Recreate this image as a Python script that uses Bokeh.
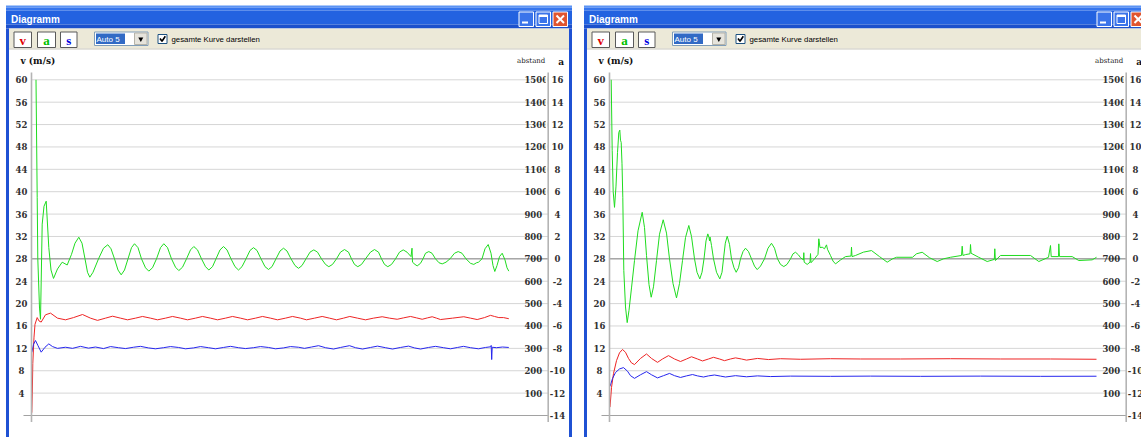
from bokeh.plotting import figure
from bokeh.models import Range1d
from bokeh.core.properties import value
from bokeh.embed import file_html
from bokeh.resources import INLINE

# ---------------------------------------------------------------------------
# Axis ticks
V_TICKS = [4, 8, 12, 16, 20, 24, 28, 32, 36, 40, 44, 48, 52, 56, 60]
V_LABELS = [str(v) for v in V_TICKS]
S_TICKS = [100, 200, 300, 400, 500, 600, 700, 800, 900, 1000, 1100, 1200, 1300, 1400, 1500]
S_LABELS = [str(s) for s in S_TICKS]
A_TICKS = [-14, -12, -10, -8, -6, -4, -2, 0, 2, 4, 6, 8, 10, 12, 14, 16]
A_LABELS = [str(a) for a in A_TICKS]

# Scale relations between the three value axes
A_ZERO_V = 28.0   # v value at which a = 0
V_PER_A = 2.0     # v units per a unit
S_PER_V = 25.0    # abstand units per v unit

# ---------------------------------------------------------------------------
# Run 1: (t [s], a [m/s^2])
RUN1_ACCEL = [
    (0.45, 16.0), (0.57, 5.5), (0.63, 0.0), (0.8, -4.4), (0.9, -5.4), (0.97, -2.0), (1.07, 3.1),
    (1.25, 4.7), (1.47, 5.15), (1.73, 1.0), (1.95, -1.0), (2.2, -1.75), (2.6, -0.9), (3.07, -0.3),
    (3.57, -0.55), (4.0, 0.4), (4.35, 1.4), (4.73, 1.93), (5.05, 1.4), (5.35, 0.0), (5.6, -1.2),
    (5.83, -1.64), (6.15, -1.2), (6.7, 0.0), (7.2, 0.95), (7.63, 1.26), (7.95, 0.9), (8.3, 0.0),
    (8.65, -1.0), (8.97, -1.43), (9.3, -1.0), (9.65, 0.0), (10.0, 1.0), (10.3, 1.35), (10.65, 1.0),
    (11.0, 0.0), (11.4, -0.8), (11.73, -1.1), (12.1, -0.8), (12.5, 0.0), (12.9, 1.0), (13.23, 1.35),
    (13.6, 1.0), (14.0, 0.0), (14.4, -0.75), (14.73, -1.05), (15.1, -0.75), (15.5, 0.0), (15.9, 0.8),
    (16.23, 1.1), (16.6, 0.8), (17.0, 0.0), (17.4, -0.7), (17.73, -1.0), (18.1, -0.7), (18.45, 0.0),
    (18.85, 0.8), (19.2, 1.1), (19.55, 0.8), (19.95, 0.0), (20.35, -0.7), (20.7, -1.0), (21.05, -0.7),
    (21.45, 0.0), (21.85, 0.75), (22.2, 1.0), (22.55, 0.75), (22.95, 0.0), (23.35, -0.7), (23.7, -0.95),
    (24.05, -0.7), (24.45, 0.0), (24.85, 0.7), (25.2, 0.95), (25.55, 0.7), (25.95, 0.0), (26.35, -0.6),
    (26.7, -0.85), (27.05, -0.6), (27.45, 0.0), (27.85, 0.6), (28.23, 0.8), (28.6, 0.6), (29.0, 0.0),
    (29.4, -0.5), (29.73, -0.7), (30.1, -0.5), (30.5, 0.0), (30.9, 0.6), (31.3, 0.83), (31.7, 0.6),
    (32.0, 0.0), (32.3, -0.5), (32.63, -0.7), (33.0, -0.5), (33.4, 0.0), (33.9, 0.6), (34.3, 0.83),
    (34.7, 0.6), (35.0, 0.0), (35.3, -0.5), (35.63, -0.7), (36.0, -0.5), (36.4, 0.0), (36.8, 0.6),
    (37.17, 0.8), (37.55, 0.6), (37.95, 0.2), (38.05, 0.95), (38.1, -0.3), (38.35, -0.5), (38.57, -0.63),
    (38.9, -0.4), (39.15, 0.0), (39.4, 0.5), (39.73, 0.65), (40.05, 0.5), (40.4, 0.0), (40.75, -0.35),
    (41.07, -0.45), (41.45, -0.3), (41.85, 0.0), (42.3, 0.5), (42.67, 0.65), (43.05, 0.5), (43.45, 0.0),
    (43.9, -0.4), (44.23, -0.5), (44.5, -0.35), (44.7, -0.3), (45.05, 0.0), (45.35, 0.9), (45.67, 1.28),
    (45.95, 0.5), (46.15, -0.6), (46.33, -1.13), (46.55, -0.6), (46.8, 0.2), (47.07, 0.5), (47.35, -0.1),
    (47.55, -0.8), (47.73, -1.1),
]
# Run 1: (t [s], v [m/s])
RUN1_SPEED = [
    (0.03, 0.5), (0.08, 4.0), (0.13, 9.3), (0.25, 14.0), (0.35, 16.3), (0.57, 17.5), (0.75, 16.9),
    (0.97, 16.7), (1.4, 18.0), (1.9, 18.3), (2.6, 17.4), (3.4, 17.1), (4.2, 17.5), (5.1, 18.05),
    (5.9, 17.4), (6.6, 17.0), (7.4, 17.4), (8.1, 17.75), (8.9, 17.4), (9.6, 17.1), (10.4, 17.4),
    (11.1, 17.7), (11.9, 17.4), (12.6, 17.1), (13.4, 17.4), (14.1, 17.7), (14.9, 17.4), (15.6, 17.1),
    (16.4, 17.4), (17.1, 17.7), (17.9, 17.4), (18.6, 17.1), (19.4, 17.4), (20.1, 17.7), (20.9, 17.4),
    (21.6, 17.1), (22.4, 17.4), (23.1, 17.7), (23.9, 17.4), (24.6, 17.1), (25.4, 17.4), (26.1, 17.7),
    (26.9, 17.4), (27.5, 17.1), (28.3, 17.4), (29.07, 17.7), (29.8, 17.4), (30.5, 17.1), (31.2, 17.4),
    (31.83, 17.7), (32.6, 17.4), (33.4, 17.1), (34.2, 17.4), (35.07, 17.65), (35.8, 17.4), (36.57, 17.2),
    (37.2, 17.45), (37.9, 17.7), (38.5, 17.45), (39.07, 17.2), (39.6, 17.45), (40.07, 17.65), (40.5, 17.4),
    (40.9, 17.15), (42.1, 17.4), (43.23, 17.65), (43.9, 17.4), (44.57, 17.15), (45.3, 17.5), (45.9, 17.9),
    (46.3, 17.7), (46.73, 17.5), (47.2, 17.5), (47.73, 17.3),
]
# Run 1: (t [s], abstand [m])
RUN1_DIST = [
    (0.03, 282), (0.2, 318), (0.4, 335), (0.65, 312), (0.97, 283), (1.35, 305), (1.73, 320), (2.1, 308),
    (2.6, 300), (3.4, 305), (4.1, 300), (4.9, 309), (5.7, 301), (6.4, 306), (7.2, 299), (7.9, 308),
    (8.7, 303), (9.4, 299), (10.2, 305), (10.9, 309), (11.7, 302), (12.4, 298), (13.2, 303), (13.9, 308),
    (14.7, 304), (15.4, 298), (16.2, 302), (16.9, 308), (17.7, 303), (18.4, 298), (19.2, 304), (19.9, 309),
    (20.7, 303), (21.4, 299), (22.2, 303), (22.9, 308), (23.7, 304), (24.4, 298), (25.2, 302), (25.9, 308),
    (26.7, 305), (27.3, 300), (28.0, 306), (28.7, 312), (29.4, 303), (30.2, 297), (30.9, 304), (31.8, 312),
    (32.4, 303), (33.1, 297), (33.9, 304), (34.6, 310), (35.4, 303), (36.1, 297), (36.9, 304), (37.7, 310),
    (38.3, 302), (38.9, 297), (39.7, 304), (40.4, 309), (41.2, 303), (41.9, 298), (42.6, 304), (43.2, 309),
    (43.9, 303), (44.7, 298), (45.4, 304), (45.93, 307), (45.97, 313), (46.02, 250), (46.07, 305),
    (46.5, 303), (47.1, 306), (47.73, 304),
]

# Run 2: (t [s], a [m/s^2])
RUN2_ACCEL = [
    (0.17, 16.0), (0.27, 9.7), (0.37, 6.0), (0.5, 4.6), (0.65, 6.5), (0.8, 9.5), (0.93, 11.3),
    (1.03, 11.5), (1.1, 10.6), (1.17, 10.4), (1.25, 8.5), (1.33, 5.5), (1.43, -1.05), (1.6, -4.3),
    (1.77, -5.7), (1.95, -4.6), (2.2, -2.6), (2.5, -0.15), (2.85, 2.5), (3.27, 4.16), (3.5, 2.8),
    (3.7, 0.3), (3.95, -2.3), (4.17, -3.43), (4.4, -2.5), (4.7, -0.15), (5.0, 2.2), (5.37, 3.49),
    (5.7, 2.3), (6.0, 0.0), (6.35, -2.2), (6.7, -3.49), (7.0, -2.2), (7.3, -0.15), (7.6, 1.9),
    (7.93, 2.98), (8.2, 2.0), (8.5, 0.0), (8.75, -1.2), (9.03, -1.79), (9.25, -1.2), (9.45, 0.0),
    (9.65, 1.6), (9.83, 2.23), (9.95, 1.9), (10.0, 1.6), (10.05, 1.95), (10.2, 1.2), (10.4, 0.0),
    (10.7, -1.2), (11.03, -1.79), (11.25, -1.2), (11.4, 0.0), (11.58, 1.4), (11.77, 2.02), (12.0, 1.3),
    (12.2, 0.0), (12.45, -0.8), (12.67, -1.2), (12.9, -0.8), (13.1, 0.0), (13.35, 0.65), (13.6, 0.95),
    (13.9, 0.65), (14.2, 0.0), (14.5, -0.65), (14.77, -0.96), (15.1, -0.65), (15.5, 0.0), (15.85, 0.95),
    (16.2, 1.39), (16.5, 0.95), (16.8, 0.0), (17.1, -0.5), (17.43, -0.69), (17.75, -0.5), (18.1, 0.0),
    (18.35, 0.45), (18.6, 0.59), (18.9, 0.35), (19.1, 0.1), (19.4, -0.1), (19.43, 0.55), (19.47, -0.3),
    (19.77, -0.5), (20.05, -0.3), (20.1, 0.47), (20.15, -0.35), (20.5, 0.0), (20.85, 0.4), (20.93, 1.79),
    (21.05, 1.0), (21.27, 1.04), (21.5, 0.9), (21.7, 1.25), (21.8, 0.85), (22.1, 0.3), (22.35, -0.2),
    (22.6, -0.45), (23.1, -0.1), (23.6, 0.2), (24.15, 0.25), (24.2, 1.04), (24.25, 0.2), (24.6, 0.3),
    (25.4, 0.6), (26.2, 0.74), (27.0, 0.2), (27.77, -0.3), (28.3, 0.0), (28.7, 0.14), (30.3, 0.14),
    (30.7, 0.45), (31.27, 0.59), (32.0, 0.1), (32.77, -0.24), (33.4, 0.0), (34.1, 0.14), (35.2, 0.3),
    (35.27, 1.13), (35.34, 0.3), (35.6, 0.38), (36.05, 0.45), (36.1, 1.28), (36.16, 0.5), (36.9, 0.15),
    (37.77, -0.24), (38.48, -0.05), (38.53, 0.9), (38.59, -0.15), (39.1, 0.3), (42.1, 0.3), (42.93, -0.24),
    (43.9, 0.14), (44.1, 1.19), (44.17, 0.2), (44.9, 0.2), (44.93, 1.34), (45.0, 0.2), (46.27, 0.2),
    (46.93, -0.15), (48.27, -0.09), (48.7, 0.14),
]
# Run 2: (t [s], v [m/s])
RUN2_SPEED = [
    (0.05, 1.5), (0.2, 5.0), (0.4, 7.5), (0.7, 9.8), (1.0, 11.2), (1.3, 11.8), (1.6, 11.3), (1.9, 10.2),
    (2.2, 9.4), (2.5, 9.1), (3.1, 10.2), (3.7, 11.0), (4.2, 10.2), (4.8, 9.5), (5.3, 10.1), (5.9, 10.7),
    (6.5, 10.1), (7.1, 9.65), (7.7, 10.1), (8.2, 10.5), (8.8, 10.1), (9.3, 9.75), (9.9, 10.1), (10.4, 10.4),
    (11.0, 10.1), (11.5, 9.8), (12.1, 10.1), (12.6, 10.3), (13.2, 10.1), (13.7, 9.9), (14.8, 10.2),
    (15.9, 10.0), (17.1, 10.15), (19.1, 10.05), (22.1, 10.15), (25.1, 10.1), (29.1, 10.1), (34.1, 10.15),
    (39.1, 10.1), (44.1, 10.1), (48.7, 10.05),
]
# Run 2: (t [s], abstand [m])
RUN2_DIST = [
    (0.05, 130), (0.3, 165), (0.6, 192), (1.0, 208), (1.4, 214), (1.8, 198), (2.1, 178), (2.5, 166),
    (3.1, 182), (3.7, 196), (4.2, 182), (4.8, 168), (5.4, 178), (6.0, 188), (6.5, 178), (7.1, 170),
    (7.7, 177), (8.3, 183), (8.8, 177), (9.4, 172), (9.9, 177), (10.5, 181), (11.1, 176), (11.6, 172),
    (12.6, 178), (13.7, 173), (14.8, 177), (16.1, 174), (18.1, 176), (22.1, 175), (26.1, 176), (31.1, 175),
    (37.1, 176), (43.1, 175), (48.7, 175.5),
]

RUNS = [(RUN1_ACCEL, RUN1_SPEED, RUN1_DIST), (RUN2_ACCEL, RUN2_SPEED, RUN2_DIST)]

# ---------------------------------------------------------------------------
# Page geometry (screen pixels, y downwards)
W, H = 1141, 437
WIN_OFFSETS = [0, 578]          # horizontal offset of each dialog window
AX_L, AX_R = 31.0, 547.7        # left / right value axis in the first window
Y_ZERO, Y_TOP = 415.0, 79.3     # pixel rows of v = 0 and v = 60
PX_PER_V = (Y_ZERO - Y_TOP) / 60.0
PX_PER_T = 10.0                 # pixels per second

GREEN, RED, BLUE = "#1fdc1f", "#ee2424", "#2626ee"
GRID, ZERO_LINE, AXIS = "#d6d6d6", "#8a8a8a", "#b4b4b4"
SERIF = value("DejaVu Serif")
SANS = value("Liberation Sans")

p = figure(width=W, height=H, x_range=Range1d(0, W), y_range=Range1d(H, 0),
           x_axis_type=None, y_axis_type=None, toolbar_location=None,
           output_backend="svg", min_border=0, title=None)
p.outline_line_color = None
p.background_fill_color = "white"
p.border_fill_color = "white"

# One set of scales per window: time, speed, acceleration and distance
xr, yr = {}, {}
vb = (Y_ZERO - H) / PX_PER_V
vt = Y_ZERO / PX_PER_V
for k, ox in enumerate(WIN_OFFSETS):
    x0 = AX_L + ox
    xr[f"t{k}"] = Range1d(-x0 / PX_PER_T, (W - x0) / PX_PER_T)
    yr[f"v{k}"] = Range1d(vb, vt)
    yr[f"a{k}"] = Range1d((vb - A_ZERO_V) / V_PER_A, (vt - A_ZERO_V) / V_PER_A)
    yr[f"s{k}"] = Range1d(vb * S_PER_V, vt * S_PER_V)
p.extra_x_ranges = xr
p.extra_y_ranges = yr


def window(ox):
    # frame, title bar and toolbar of a dialog window
    left, right = 5.5 + ox, 571.5 + ox
    p.quad(left=left, right=right, top=[5, 7, 10, 24], bottom=[7, 10, 24, 28],
           fill_color=["#5b93f4", "#3676ee", "#2362e0", "#1b50cc"], line_color=None)
    p.quad(left=[left, right - 3], right=[left + 3, right], top=28, bottom=H,
           fill_color="#1f51d3", line_color=None)
    p.quad(left=left + 3, right=right - 3, top=28, bottom=48, fill_color="#ece9d8", line_color=None)
    p.segment(x0=left + 3, x1=right - 3, y0=48.5, y1=48.5, line_color="#c9c7bd", line_width=1)
    p.text(x=[10.5 + ox], y=[18.5], text=["Diagramm"], text_font=SANS, text_font_size="10px",
           text_font_style="bold", text_color="white", text_baseline="middle")

    # caption buttons
    p.quad(left=[518.5 + ox, 535.5 + ox], right=[533 + ox, 550 + ox], top=11.5, bottom=26,
           fill_color="#3b74ea", line_color="white", line_width=1)
    p.quad(left=552.5 + ox, right=567 + ox, top=11.5, bottom=26,
           fill_color="#e1552f", line_color="white", line_width=1)
    p.quad(left=521.5 + ox, right=527.5 + ox, top=21, bottom=23, fill_color="white", line_color=None)
    p.quad(left=538.5 + ox, right=547 + ox, top=14.5, bottom=23, fill_color=None,
           line_color="white", line_width=1)
    p.quad(left=538.5 + ox, right=547 + ox, top=14.5, bottom=16.5, fill_color="white", line_color=None)
    p.segment(x0=[556 + ox, 563.5 + ox], x1=[563.5 + ox, 556 + ox], y0=15, y1=22.5,
              line_color="white", line_width=2)

    # v / a / s toggle buttons
    p.quad(left=[13.5 + ox, 37 + ox, 60 + ox], right=[31 + ox, 55 + ox, 76.5 + ox], top=31.5, bottom=47,
           fill_color="white", line_color="#5a5a5a", line_width=1)
    p.text(x=[22.3 + ox, 46 + ox, 68.3 + ox], y=[39.5] * 3, text=["v", "a", "s"],
           text_color=["#e00000", "#00c000", "#0000e0"], text_font=value("Liberation Serif"),
           text_font_size="13px", text_font_style="bold", text_align="center", text_baseline="middle")

    # zoom combo box
    p.quad(left=94 + ox, right=147.5 + ox, top=31.5, bottom=45, fill_color="white",
           line_color="#7f9db9", line_width=1)
    p.quad(left=95.5 + ox, right=124.5 + ox, top=33, bottom=43.5, fill_color="#316ac5", line_color=None)
    p.text(x=[96 + ox], y=[38.5], text=["Auto  5"], text_font=SANS, text_font_size="8px",
           text_color="white", text_baseline="middle")
    p.quad(left=134 + ox, right=146.5 + ox, top=32.5, bottom=44, fill_color="#e6e4dc",
           line_color="#b5b3a8", line_width=1)
    p.scatter(x=[140.3 + ox], y=[38.5], marker="inverted_triangle", size=5,
              fill_color="black", line_color=None)

    # "whole curve" checkbox
    p.quad(left=157.5 + ox, right=166.5 + ox, top=34, bottom=43, fill_color="white",
           line_color="#1c5180", line_width=1)
    p.line(x=[159.5 + ox, 161.5 + ox, 164.8 + ox], y=[38, 40.8, 35.8], line_color="black", line_width=1.6)
    p.text(x=[171 + ox], y=[38.5], text=["gesamte Kurve darstellen"], text_font=SANS,
           text_font_size="7.8px", text_color="black", text_baseline="middle")


def chart(k, ox, accel, speed, dist):
    xl, xrt = AX_L + ox, AX_R + ox
    tn, vn, an, sn = f"t{k}", f"v{k}", f"a{k}", f"s{k}"

    # grid, zero line of a, axes
    p.segment(x0=xl, x1=xrt, y0=V_TICKS, y1=V_TICKS, y_range_name=vn, line_color=GRID, line_width=1)
    p.segment(x0=xl, x1=xrt, y0=[0], y1=[0], y_range_name=an, line_color=ZERO_LINE, line_width=1)
    p.segment(x0=xl - 8, x1=xrt, y0=[0], y1=[0], y_range_name=vn, line_color="#a2a2a2", line_width=1.2)

    # curves
    for data, rn, col in ((accel, an, GREEN), (speed, vn, RED), (dist, sn, BLUE)):
        ts, ys = zip(*data)
        p.line(x=list(ts), y=list(ys), x_range_name=tn, y_range_name=rn, line_color=col, line_width=1)

    # tick labels
    p.text(x=[xl - 10] * len(V_TICKS), y=V_TICKS, text=V_LABELS, y_range_name=vn,
           text_font=SERIF, text_font_size="8.5px", text_font_style="bold", text_color="#303030",
           text_align="center", text_baseline="middle")
    p.text(x=[xrt - 23.8] * len(S_TICKS), y=S_TICKS, text=S_LABELS, y_range_name=sn,
           text_font=SERIF, text_font_size="8.5px", text_font_style="bold", text_color="#303030",
           text_align="left", text_baseline="middle")
    # the four-digit abstand labels run into the axis
    p.quad(left=xrt - 2.4, right=xrt - 0.4, top=72, bottom=196, fill_color="white", line_color=None)
    p.text(x=[xrt + 9.3] * len(A_TICKS), y=A_TICKS, text=A_LABELS, y_range_name=an,
           text_font=SERIF, text_font_size="8.5px", text_font_style="bold", text_color="#303030",
           text_align="center", text_baseline="middle")

    p.segment(x0=[xl, xrt], x1=[xl, xrt], y0=72, y1=421.5, line_color=AXIS, line_width=1.6)

    # axis titles
    p.text(x=[xl - 11], y=[60.5], text=["v (m/s)"], text_font=SERIF, text_font_size="9px",
           text_font_style="bold", text_color="#111111", text_baseline="middle")
    p.text(x=[xrt - 17], y=[60], text=["abstand"], text_font=SERIF, text_font_size="7px",
           text_color="#222222", text_align="center", text_baseline="middle")
    p.text(x=[xrt + 13], y=[61], text=["a"], text_font=SERIF, text_font_size="9px",
           text_font_style="bold", text_color="#111111", text_align="center", text_baseline="middle")


for k, ox in enumerate(WIN_OFFSETS):
    window(ox)
    acc, spd, dst = RUNS[k]
    chart(k, ox, acc, spd, dst)

open("out.html", "w").write(file_html(p, INLINE))
